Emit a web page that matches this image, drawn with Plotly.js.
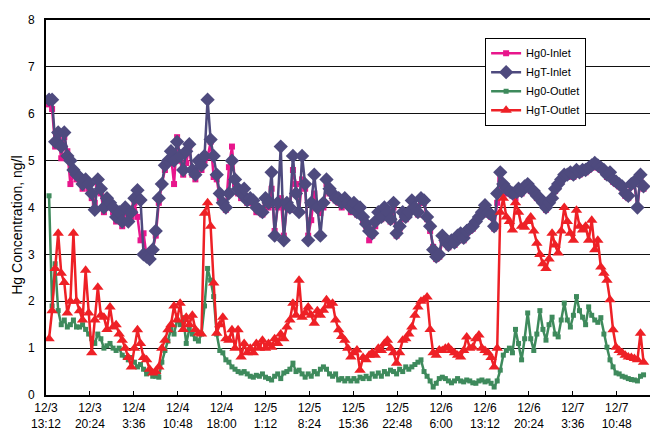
<!DOCTYPE html>
<html>
<head>
<meta charset="utf-8">
<script src="https://cdn.plot.ly/plotly-3.0.1.min.js"></script>
<style>html,body{margin:0;padding:0;background:#fff;}#chart{width:650px;height:434px;}</style>
</head>
<body>
<div id="chart"></div>
<script>
// Sampling: one reading every half hour, hours after 12/3 13:12
const firstHour = 0.5;
const stepHours = 0.5;

const tickHours = [0, 7.2, 14.4, 21.6, 28.8, 36, 43.2, 50.4, 57.6, 64.8, 72, 79.2, 86.4, 93.6];
const tickLabels = ['12/3<br>13:12','12/3<br>20:24','12/4<br>3:36','12/4<br>10:48','12/4<br>18:00','12/5<br>1:12','12/5<br>8:24','12/5<br>15:36','12/5<br>22:48','12/6<br>6:00','12/6<br>13:12','12/6<br>20:24','12/7<br>3:36','12/7<br>10:48'];

const hg0Inlet = [
6.2,6.1,5.3,5.5,5.05,5.5,5.2,4.5,4.7,4.6,
4.6,4.4,4.5,4.4,4.2,4.1,4.5,4.3,3.9,4.1,
4.0,3.9,3.7,3.8,3.6,3.9,3.8,3.8,4.1,3.8,
3.3,3.45,2.95,2.9,3.1,3.4,4.1,4.5,4.8,5.0,
5.1,4.5,5.5,5.0,4.7,4.95,5.3,4.7,4.6,4.9,
4.8,5.0,5.07,5.4,4.65,4.6,4.2,4.1,3.95,4.86,
5.3,4.5,4.3,4.2,4.3,4.1,4.1,4.1,3.9,3.9,
3.85,4.1,4.0,4.4,3.5,4.0,4.2,3.4,4.0,3.95,
4.8,4.5,3.9,4.6,4.4,3.4,3.73,4.3,4.0,3.88,
4.0,4.5,4.3,4.2,4.15,4.1,4.0,4.1,4.05,3.9,
4.0,3.85,3.95,3.7,3.6,3.3,3.4,3.6,3.85,3.75,
3.95,3.85,3.7,4.0,3.4,3.55,3.8,3.75,3.85,4.1,
3.95,3.85,4.1,4.1,3.75,3.5,3.16,2.9,2.95,3.3,
3.25,3.15,3.25,3.2,3.35,3.4,3.3,3.45,3.5,3.55,
3.65,3.75,3.85,4.0,3.85,3.8,3.55,4.1,4.6,4.4,
4.3,4.3,4.25,4.2,4.3,4.3,4.4,4.45,4.35,4.3,
4.2,4.15,4.05,3.95,4.05,4.15,4.35,4.45,4.55,4.65,
4.65,4.7,4.65,4.75,4.7,4.75,4.75,4.8,4.85,4.9,
4.85,4.8,4.75,4.65,4.7,4.55,4.5,4.45,4.4,4.25,
4.2,4.45,4.5,4.0,4.65,4.4];

const hgTInlet = [
6.3,6.3,5.4,5.6,5.3,5.6,5.1,5.0,4.8,4.7,
4.65,4.5,4.6,4.5,4.3,3.95,4.6,4.4,4.0,4.2,
4.1,4.0,3.8,3.9,3.7,4.0,3.7,3.9,4.2,4.37,
4.16,3.0,2.95,2.9,3.1,3.5,4.2,4.5,4.9,5.0,
5.2,5.0,5.4,5.1,4.8,5.2,5.35,4.8,4.7,5.0,
4.9,5.1,6.3,5.45,5.1,4.7,4.3,4.1,4.0,4.3,
5.0,4.6,4.4,4.3,4.4,4.15,4.2,4.15,4.0,3.95,
3.9,4.2,4.1,4.75,3.4,4.1,5.3,3.3,4.1,4.0,
5.1,4.3,3.9,5.1,4.5,3.3,4.1,4.7,4.0,3.4,
4.1,4.6,4.4,4.3,4.2,4.2,4.1,4.2,4.1,4.0,
4.1,3.9,4.0,3.8,3.65,3.5,3.45,3.7,3.9,3.8,
4.0,3.9,3.75,4.1,3.45,3.6,3.9,3.8,3.9,4.15,
4.0,3.9,4.2,4.15,3.8,3.6,3.1,2.95,3.0,3.4,
3.3,3.2,3.3,3.25,3.4,3.45,3.35,3.5,3.55,3.6,
3.7,3.8,3.9,4.05,3.9,3.85,3.6,4.3,4.75,4.5,
4.4,4.35,4.3,4.3,4.4,4.35,4.45,4.5,4.4,4.35,
4.25,4.2,4.1,4.0,4.1,4.2,4.4,4.5,4.6,4.7,
4.7,4.75,4.7,4.8,4.75,4.8,4.8,4.85,4.9,4.95,
4.9,4.85,4.8,4.7,4.75,4.6,4.55,4.5,4.45,4.3,
4.25,4.5,4.55,4.0,4.7,4.45];

const hg0Outlet = [
4.25,1.9,2.8,1.8,1.5,1.6,1.45,1.5,1.6,1.45,
1.45,1.5,1.4,1.3,1.2,1.1,1.3,1.2,1.0,1.05,
1.1,1.0,0.95,1.0,0.85,0.8,0.75,0.8,0.7,0.6,
0.65,0.55,0.45,0.5,0.4,0.4,0.38,0.7,0.95,1.15,
1.4,1.3,1.6,1.5,1.65,1.1,1.4,1.3,1.2,1.15,
1.3,1.9,2.7,2.45,2.1,1.3,0.95,0.9,0.75,0.7,
0.6,0.55,0.5,0.47,0.5,0.45,0.4,0.38,0.42,0.4,
0.45,0.38,0.35,0.32,0.4,0.45,0.35,0.47,0.5,0.55,
0.68,0.5,0.53,0.45,0.38,0.45,0.4,0.5,0.45,0.55,
0.6,0.55,0.45,0.4,0.45,0.32,0.35,0.3,0.35,0.3,
0.35,0.3,0.38,0.35,0.4,0.35,0.45,0.4,0.47,0.4,
0.5,0.45,0.53,0.5,0.45,0.55,0.5,0.6,0.55,0.6,
0.65,0.7,0.75,0.5,0.4,0.3,0.17,0.25,0.35,0.38,
0.35,0.3,0.26,0.3,0.35,0.3,0.28,0.32,0.3,0.26,
0.25,0.3,0.32,0.28,0.3,0.25,0.17,0.3,0.53,0.85,
0.95,1.0,0.9,1.4,1.1,0.75,1.2,1.75,1.2,0.95,
1.3,1.8,1.4,1.17,1.5,1.66,1.3,1.24,1.6,1.96,
1.6,1.45,1.7,2.1,1.8,1.66,1.5,1.88,1.7,1.6,
1.55,1.65,1.3,1.02,0.75,0.6,0.47,0.45,0.4,0.38,
0.35,0.33,0.32,0.3,0.4,0.43];

const hgTOutlet = [
1.2,1.8,2.7,3.45,2.6,2.4,1.75,2.0,3.45,2.0,
1.8,1.6,2.66,1.75,0.9,1.6,2.3,1.7,1.66,1.4,
1.88,1.45,1.5,1.3,1.17,1.0,0.8,0.6,1.0,1.39,
1.1,0.8,0.75,0.55,0.47,0.5,0.6,1.0,1.17,1.39,
1.5,1.9,1.6,1.96,1.4,1.66,1.5,1.7,1.4,1.32,
1.3,3.88,4.1,3.6,2.39,1.32,1.5,1.66,1.2,1.17,
1.39,1.0,1.39,0.81,1.1,0.9,1.0,0.9,1.1,1.0,
1.17,1.0,1.1,1.02,1.2,1.1,1.3,1.2,1.45,1.6,
1.96,1.7,2.45,1.66,1.75,1.88,1.7,1.53,1.8,1.7,
1.81,2.03,1.9,1.96,1.6,1.39,1.25,1.17,1.0,0.81,
0.9,0.96,0.53,0.8,0.75,0.85,0.9,0.85,1.0,0.95,
1.1,1.17,1.0,0.9,0.68,0.9,1.17,1.2,1.3,1.45,
1.7,1.88,2.0,2.03,2.09,1.4,0.9,0.85,0.96,0.95,
1.0,1.02,0.95,0.9,0.85,0.81,0.95,1.24,1.0,1.02,
1.2,1.28,1.0,0.95,0.9,0.8,0.6,1.0,3.9,4.2,
3.8,3.7,3.52,4.1,3.9,3.6,3.58,3.7,3.8,3.5,
3.24,3.0,2.8,2.7,2.9,3.45,3.2,3.03,3.5,4.0,
3.7,3.45,3.3,3.94,3.6,3.52,3.6,3.3,3.73,3.1,
3.3,2.73,2.6,2.45,2.03,1.39,1.02,0.95,0.9,0.85,
0.81,0.8,0.78,0.75,1.32,0.7];

function hoursFor(arr) { return arr.map((_, i) => firstHour + i * stepHours); }

const font = 'Arial, "Liberation Sans", sans-serif';

const traces = [
  {name: 'Hg0-Inlet', x: hoursFor(hg0Inlet), y: hg0Inlet, mode: 'lines+markers',
   line: {color: '#E8168C', width: 2.5}, marker: {symbol: 'square', size: 6, color: '#E8168C'}},
  {name: 'HgT-Inlet', x: hoursFor(hgTInlet), y: hgTInlet, mode: 'lines+markers',
   line: {color: '#4E4A7E', width: 2.5}, marker: {symbol: 'diamond', size: 11, color: '#4E4A7E'}},
  {name: 'Hg0-Outlet', x: hoursFor(hg0Outlet), y: hg0Outlet, mode: 'lines+markers',
   line: {color: '#3E8A5C', width: 2.5}, marker: {symbol: 'square', size: 5, color: '#3E8A5C'}},
  {name: 'HgT-Outlet', x: hoursFor(hgTOutlet), y: hgTOutlet, mode: 'lines+markers',
   line: {color: '#EE2026', width: 2.5}, marker: {symbol: 'triangle-up', size: 10, color: '#EE2026'}}
];

const layout = {
  width: 650, height: 434,
  margin: {l: 46, r: 0, t: 20, b: 39, pad: 0},
  paper_bgcolor: '#fff', plot_bgcolor: '#fff',
  font: {family: font, size: 12, color: '#000'},
  showlegend: true,
  legend: {x: 0.727, y: 0.953, xanchor: 'left', yanchor: 'top',
    bgcolor: '#fff', bordercolor: '#000', borderwidth: 1,
    font: {family: font, size: 11, color: '#000'}, tracegroupgap: 0},
  xaxis: {range: [0, 99.06], tickvals: tickHours, ticktext: tickLabels,
    showgrid: false, zeroline: false, showline: true, linecolor: '#000', linewidth: 2,
    mirror: true, ticks: 'inside', ticklen: 4, tickwidth: 1, tickcolor: '#000',
    tickfont: {family: font, size: 12, color: '#000'}, ticklabelstandoff: 1},
  yaxis: {range: [0, 8], dtick: 1, tick0: 0, showgrid: true, gridcolor: '#111', gridwidth: 1,
    zeroline: false, showline: true, linecolor: '#000', linewidth: 2, ticks: '',
    tickfont: {family: font, size: 12, color: '#000'}, ticklabelstandoff: 7},
  annotations: [{text: 'Hg Concentration, ng/l', xref: 'paper', yref: 'paper',
    x: -0.047, y: 0.453, xanchor: 'center', yanchor: 'middle', textangle: -90, showarrow: false,
    font: {family: font, size: 14, color: '#000'}}]
};

Plotly.newPlot('chart', traces, layout, {displayModeBar: false, staticPlot: true});
</script>
</body>
</html>
